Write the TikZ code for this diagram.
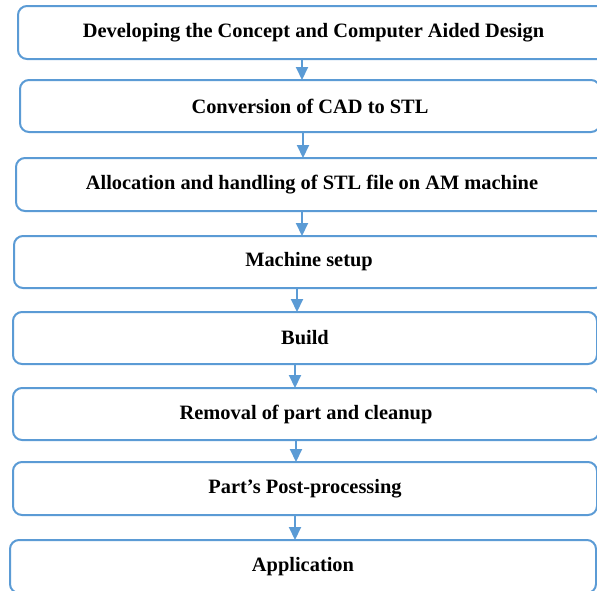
\documentclass[tikz,border=0pt]{standalone}
\usepackage{fontspec}
\setmainfont{Liberation Serif}
\usetikzlibrary{arrows.meta,positioning,calc}
\definecolor{vblue}{HTML}{5B9BD5}

\begin{document}
\begin{tikzpicture}[x=1pt, y=-1pt, font=\fontsize{20.4}{24}\selectfont\bfseries,
  >={Triangle[length=13pt,width=12pt]},
  box/.style={draw=vblue, rounded corners=9pt, line width=2pt, fill=white, align=center, inner sep=0pt},
  flow/.style={->, line width=2pt, draw=vblue, fill=vblue, shorten >=-1pt}]
\useasboundingbox (0,0) rectangle (597,590);
\clip (0,0) rectangle (597,590);

% ---------------- process steps, top to bottom
\node[box, minimum width=591pt, minimum height=53pt] (b1) at (313.5,32.5)
  {Developing the Concept and Computer Aided Design};
\node[box, minimum width=580pt, minimum height=52pt] (b2) at (310,106)
  {Conversion of CAD to STL};
\node[box, minimum width=592pt, minimum height=53pt] (b3) at (312,184.5)
  {Allocation and handling of STL file on AM machine};
\node[box, minimum width=590pt, minimum height=52pt] (b4) at (309,262)
  {Machine setup};
\node[box, minimum width=584pt, minimum height=52pt] (b5) at (305,338)
  {Build};
\node[box, minimum width=586pt, minimum height=52pt] (b6) at (306,414)
  {Removal of part and cleanup};
\node[box, minimum width=584pt, minimum height=53pt] (b7) at (305,488.5)
  {Part’s Post-processing};
\node[box, minimum width=586pt, minimum height=53pt] (b8) at (303,566.5)
  {Application};

% ---------------- connectors
\draw[flow] ([xshift=-11.5pt]b1.south) -- ([xshift=-11.5pt]b1.south |- b2.north);
\draw[flow] ([xshift=-7pt]b2.south) -- ([xshift=-7pt]b2.south |- b3.north);
\draw[flow] ([xshift=-10pt]b3.south) -- ([xshift=-10pt]b3.south |- b4.north);
\draw[flow] ([xshift=-12pt]b4.south) -- ([xshift=-12pt]b4.south |- b5.north);
\draw[flow] ([xshift=-10pt]b5.south) -- ([xshift=-10pt]b5.south |- b6.north);
\draw[flow] ([xshift=-10pt]b6.south) -- ([xshift=-10pt]b6.south |- b7.north);
\draw[flow] ([xshift=-10pt]b7.south) -- ([xshift=-10pt]b7.south |- b8.north);
\end{tikzpicture}
\end{document}
